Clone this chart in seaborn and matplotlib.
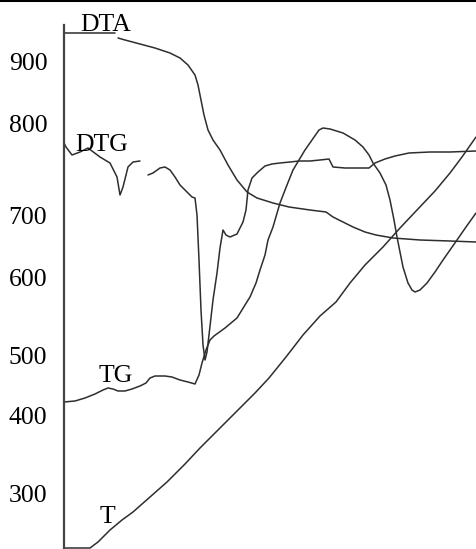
import numpy as np
import pandas as pd
import matplotlib
matplotlib.use("Agg")
import matplotlib.pyplot as plt
import seaborn as sns

# ---- data (chart units: x = time axis position, y = signal height) ----
dta_x = [64,115,118,125,140,155,170,180,188,195,198,201,204,208,213,220,228,237,247,257,273,289,310,326,333,345,353,365,376,393,420,450,476]
dta_y = [33,33,38,40,44,48,53,58,65,75,85,100,115,130,140,150,165,180,192,198,203,207,210,212,217,223,227,232,235,238,240,241,242]
dta_gap_after = 1   # index after which the trace has a small break

dtg_x = [64,66,72,80,88,100,110,117,120,123,128,133,140,148,153,160,165,170,175,180,187,192,195,197,199,201,203,205,207,209,213,217,220,223,226,230,237,243,246,248,252,258,265,272,280,290,299,310,320,329,333,345,360,369,375,385,395,409,430,450,476]
dtg_y = [143,147,155,152,148,157,163,177,195,187,167,162,161,175,173,168,167,170,177,185,192,197,198,215,260,310,345,360,352,335,300,273,248,230,235,237,234,222,210,190,178,172,166,164,163,162,161,161,160,159,167,168,168,168,163,159,156,153,152,152,151]
dtg_gap_after = 12

tg_x = [64,75,85,95,103,108,113,118,125,132,140,146,150,155,165,172,180,188,195,199,202,206,210,214,225,237,245,250,256,260,265,268,273,280,287,293,299,305,312,319,323,330,343,355,363,369,373,380,386,390,394,397,400,403,408,412,415,420,427,435,443,450,457,466,476]
tg_y = [402,401,398,394,390,388,389,391,391,389,386,383,378,376,376,377,380,382,384,375,363,350,340,336,328,318,305,297,283,270,255,240,227,203,185,170,160,150,140,130,128,129,133,140,147,155,163,173,185,200,220,237,252,267,283,290,292,290,283,272,260,250,240,227,213]

t_x = [64,90,98,110,122,133,150,167,185,200,220,238,255,269,286,303,320,336,350,365,383,400,417,435,450,462,476]
t_y = [548,548,542,530,520,512,497,482,464,448,428,410,393,378,357,335,316,302,283,265,247,228,210,191,173,157,137]

tick_label_pos = [488, 426, 334, 271, 194, 134, 56]
tick_labels = ["900", "800", "700", "600", "500", "400", "300"]
minor_tick_pos = [494, 436, 363, 306, 246, 188, 132, 81, 35]

curve_labels = ["DTA", "DTG", "TG", "T"]
curve_label_pos = [(106, 524), (102, 404), (116, 173), (107, 32)]

H = 549

sns.set_style("white")
plt.rcParams["font.family"] = ["Liberation Serif", "DejaVu Serif"]

fig = plt.figure(figsize=(4.76, 5.49), dpi=100)
ax = fig.add_axes([0, 0, 1, 1])

line_color = "#2e2e2e"

def segments(xs, ys, gap=None):
    if gap is None:
        return [(xs, ys)]
    return [(xs[:gap + 1], ys[:gap + 1]), (xs[gap + 1:], ys[gap + 1:])]

all_segs = (segments(dta_x, dta_y, dta_gap_after) + segments(dtg_x, dtg_y, dtg_gap_after)
            + segments(tg_x, tg_y) + segments(t_x, t_y))
for xs, ys in all_segs:
    df = pd.DataFrame({"x": xs, "y": [H - v for v in ys]})
    sns.lineplot(data=df, x="x", y="y", sort=False, estimator=None,
                 color=line_color, lw=1.1, ax=ax)

ax.set_xlim(0, 476)
ax.set_ylim(0, H)
ax.set_xlabel("")
ax.set_ylabel("")
ax.set_xticks([])

for s in ["right", "bottom"]:
    ax.spines[s].set_visible(False)
ax.spines["top"].set_linewidth(2.2)
ax.spines["top"].set_color("black")
ax.spines["left"].set_position(("data", 64))
ax.spines["left"].set_bounds(0, 524)
ax.spines["left"].set_color("#444444")
ax.spines["left"].set_linewidth(1.6)

ax.set_yticks(tick_label_pos)
ax.set_yticklabels(tick_labels)
ax.set_yticks(minor_tick_pos, minor=True)
ax.tick_params(axis="y", which="major", length=0, pad=12, labelsize=18.5, labelcolor="black")
ax.tick_params(axis="y", which="minor", length=6, width=1.4, direction="in", color="#444444")

for lab, (lx, ly) in zip(curve_labels, curve_label_pos):
    ax.text(lx, ly, lab, fontsize=18.5, ha="center", va="center", color="black")

fig.savefig("out.png", dpi=100)
